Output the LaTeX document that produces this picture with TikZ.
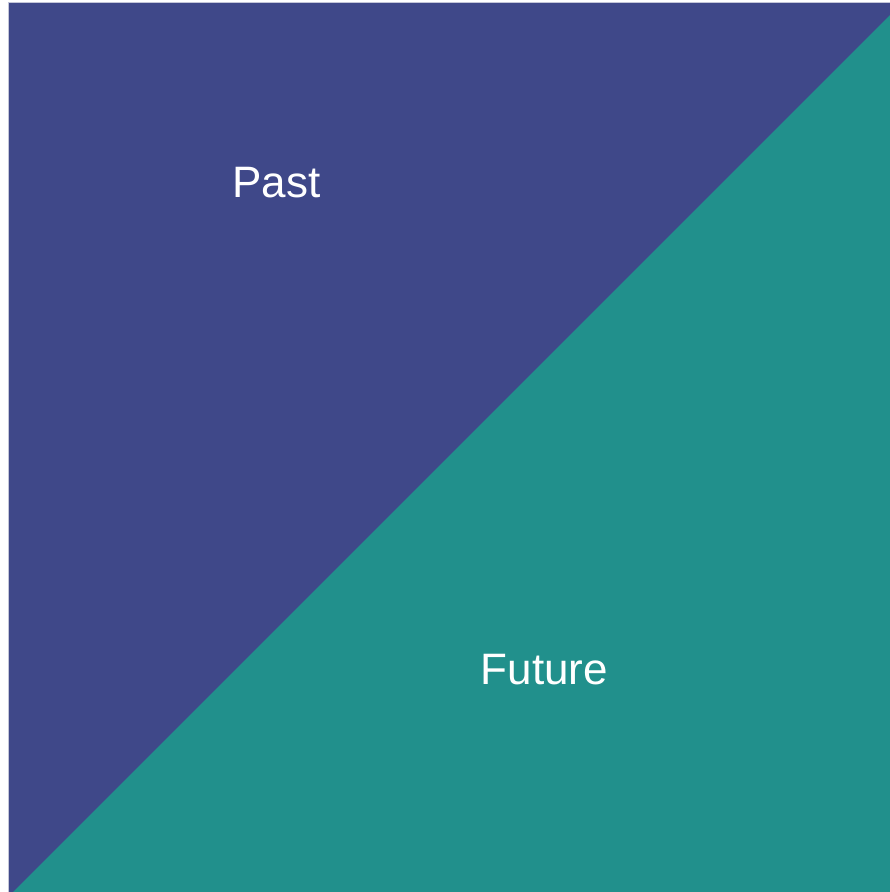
\documentclass[tikz,border=0pt]{standalone}
\usepackage{fontspec}
\setmainfont{Liberation Sans}
\definecolor{pastc}{HTML}{3F4889}
\definecolor{futc}{HTML}{21908C}
\definecolor{edgec}{HTML}{C4C6D8}
\tikzset{lbl/.style={text=white, font=\fontsize{44}{50}\selectfont, anchor=base, inner sep=0pt}}
\begin{document}
\begin{tikzpicture}[x=1pt,y=-1pt]
\useasboundingbox[fill=white] (0,0) rectangle (890,892);
\fill[edgec] (8,2) rectangle (890,892);
\fill[pastc] (9,3) rectangle (890,892);
\fill[futc] (13,892) -- (890,15) -- (890,892) -- cycle;
\node[lbl] (past) at (276.5,197.5) {Past};
\node[lbl] (future) at (544.5,684) {Future};
\end{tikzpicture}
\end{document}
